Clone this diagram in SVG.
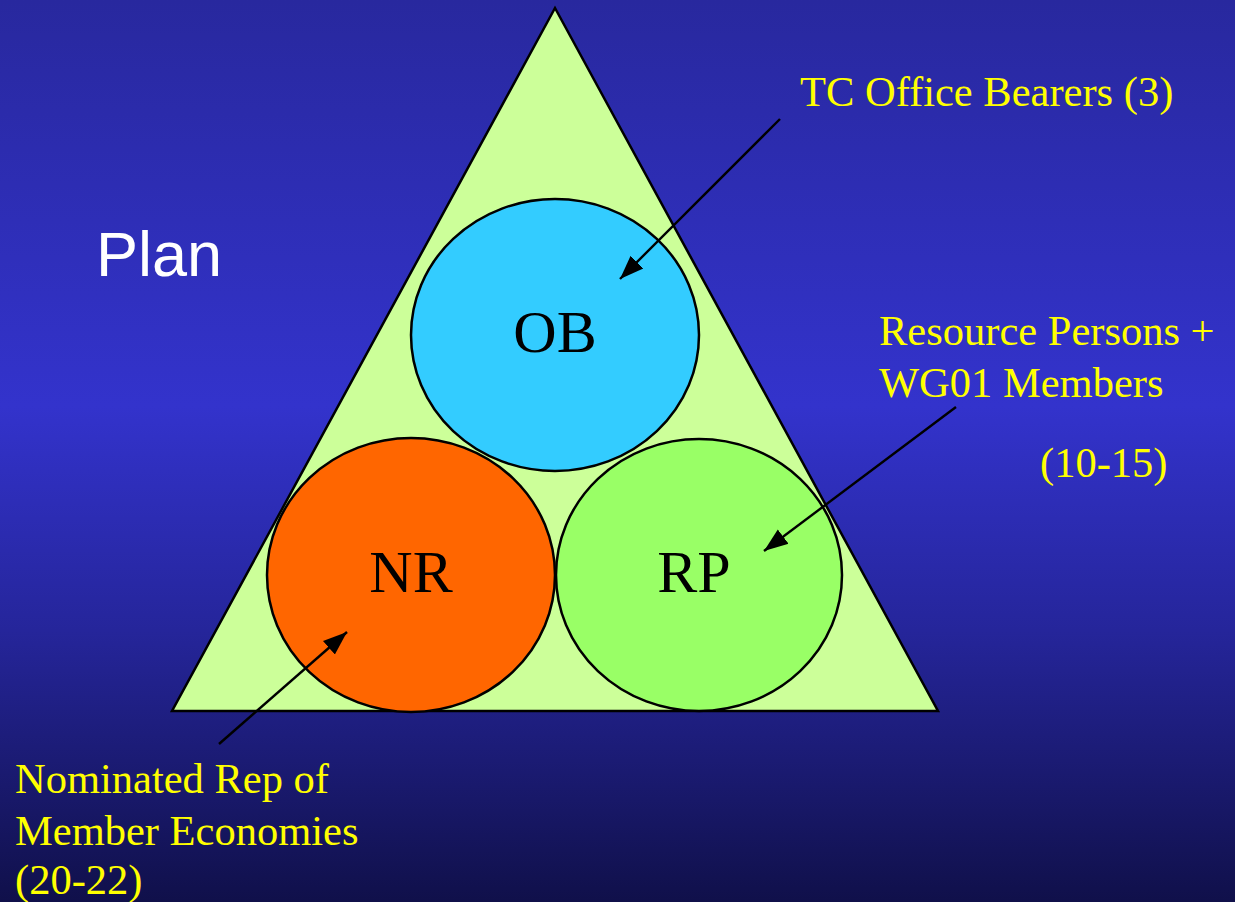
<svg xmlns="http://www.w3.org/2000/svg" width="1235" height="902" viewBox="0 0 1235 902">
<defs>
<linearGradient id="bg" x1="0" y1="0" x2="0" y2="1">
<stop offset="0" stop-color="#28289e"/>
<stop offset="0.45" stop-color="#3333cc"/>
<stop offset="0.7" stop-color="#25259a"/>
<stop offset="1" stop-color="#10104a"/>
</linearGradient>
<marker id="ah" markerUnits="userSpaceOnUse" markerWidth="26" markerHeight="20" refX="24" refY="10" orient="auto">
<path d="M0,1 L24,10 L0,19 Z" fill="#000"/>
</marker>
<style>
.lbl{font-family:"Liberation Serif","Times New Roman",serif;font-size:42.5px;fill:#ffff00}
.node{font-family:"Liberation Serif","Times New Roman",serif;font-size:60px;fill:#000;text-anchor:middle}
.shape{stroke:#000;stroke-width:2.5}
.conn{stroke:#000;stroke-width:2.4;fill:none;marker-end:url(#ah)}
</style>
</defs>
<rect x="0" y="0" width="1235" height="902" fill="url(#bg)"/>
<text x="96" y="276" font-family="'Liberation Sans',Arial,sans-serif" font-size="63" fill="#ffffff">Plan</text>
<g id="triangle">
<polygon class="shape" points="555,8 172,711 938,711" fill="#ccff99"/>
</g>
<g id="OB">
<ellipse class="shape" cx="555" cy="335" rx="144" ry="136" fill="#33ccff"/>
<text class="node" x="555" y="352">OB</text>
</g>
<g id="NR">
<ellipse class="shape" cx="411" cy="575" rx="144" ry="137" fill="#ff6600"/>
<text class="node" x="411" y="592">NR</text>
</g>
<g id="RP">
<ellipse class="shape" cx="699" cy="575" rx="143" ry="136" fill="#99ff66"/>
<text class="node" x="694" y="592">RP</text>
</g>
<g id="connectors">
<line class="conn" x1="780" y1="119" x2="620" y2="279"/>
<line class="conn" x1="956" y1="407" x2="764" y2="551"/>
<line class="conn" x1="219" y1="744" x2="347" y2="632"/>
</g>
<g id="labels">
<text class="lbl" x="800" y="106">TC Office Bearers (3)</text>
<text class="lbl" x="879" y="345">Resource Persons +</text>
<text class="lbl" x="879" y="397">WG01 Members</text>
<text class="lbl" x="1040" y="477">(10-15)</text>
<text class="lbl" x="15" y="793">Nominated Rep of</text>
<text class="lbl" x="15" y="845">Member Economies</text>
<text class="lbl" x="15" y="894">(20-22)</text>
</g>
</svg>
